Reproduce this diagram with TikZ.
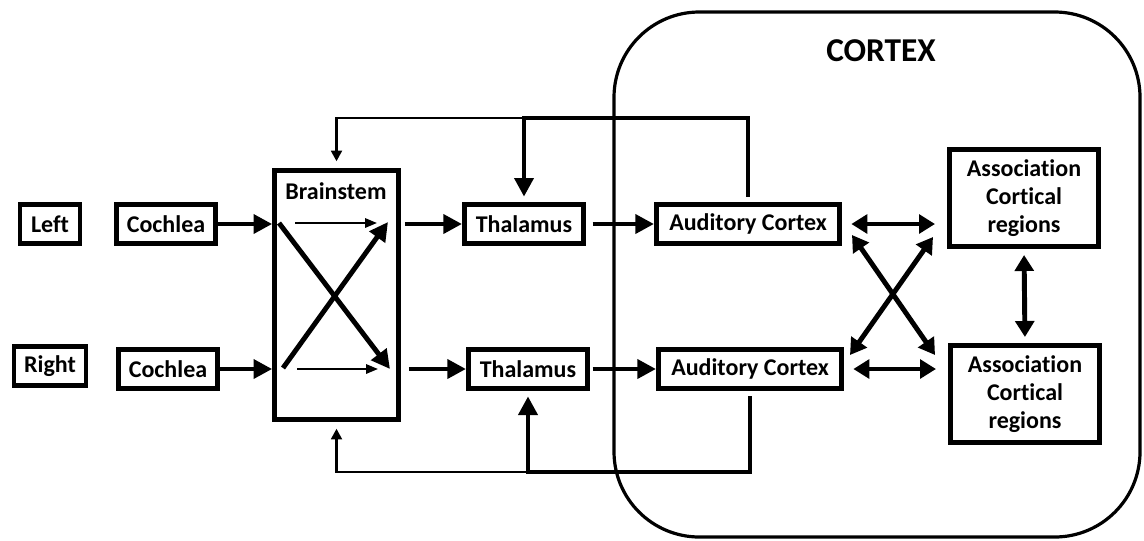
\documentclass[tikz,border=0pt]{standalone}
\usepackage{fontspec}
\setmainfont{Carlito}[Ligatures=NoCommon]
\usetikzlibrary{arrows.meta}
\begin{document}
\begin{tikzpicture}[x=0.75pt, y=-0.75pt, line join=miter,
		font=\bfseries\fontsize{18}{21}\selectfont,
		box/.style={draw, line width=3.5pt, inner sep=0pt, minimum height=29.5pt, align=center},
		flow/.style={line width=3.7pt, -{Triangle[length=14pt,width=14pt]}},
		both/.style={line width=3.7pt, {Triangle[length=12pt,width=14pt]}-{Triangle[length=12pt,width=14pt]}},
		thinflow/.style={line width=1.6pt, -{Triangle[length=9pt,width=7pt]}},
		back/.style={line width=2.2pt, -{Triangle[length=8pt,width=8pt]}}]
			\useasboundingbox (0,0) rectangle (1144,540);
			% cortex region
			\draw[line width=2.4pt, rounded corners=64pt] (614,12) rectangle (1140,537);
			\node (cortex) at (881,51) {\fontsize{25}{30}\selectfont CORTEX};
			% boxes
			\node[box, minimum width=45pt] (left) at (50,224) {Left};
			\node[box, minimum width=54pt] (right) at (50,366) {Right};
			\node[box, minimum width=74.5pt] (coch1) at (166,224) {Cochlea};
			\node[box, minimum width=74.5pt] (coch2) at (168,369) {Cochlea};
			\node[box, minimum width=93pt, minimum height=187pt] (bs) at (336.5,295) {};
			\node (bslabel) at (336,191) {Brainstem};
			\node[box, minimum width=89.5pt] (th1) at (524,224) {Thalamus};
			\node[box, minimum width=89.5pt] (th2) at (528,369) {Thalamus};
			\node[box, minimum width=137.5pt] (ac1) at (748,224) {Auditory Cortex};
			\node[box, minimum width=137.5pt] (ac2) at (750,369) {Auditory Cortex};
			\node[box, minimum width=112pt, minimum height=73pt] (as1) at (1024,198) {Association\\Cortical\\regions};
			\node[box, minimum width=112pt, minimum height=73pt] (as2) at (1025,394) {Association\\Cortical\\regions};
			% points inside the brainstem
			\coordinate (a1) at (295,223);
			\coordinate (a2) at (377,223);
			\coordinate (b1) at (297,369);
			\coordinate (b2) at (378,369);
			\coordinate (x1) at (279,223);
			\coordinate (x2) at (390,369);
			\coordinate (y1) at (283,368);
			\coordinate (y2) at (388,222);
			% crossing on the right
			\coordinate (r1) at (852,235);
			\coordinate (r2) at (935,355);
			\coordinate (s1) at (850,355);
			\coordinate (s2) at (933,237);
			% feedback corners
			\coordinate (tTop) at (524,118);
			\coordinate (tBot) at (528,472);
			% cochlea to brainstem
			\draw[flow] (coch1.east) -- (coch1.east -| bs.west);
			\draw[flow] (coch2.east) -- (coch2.east -| bs.west);
			\draw[thinflow] (a1) -- (a2);
			\draw[thinflow] (b1) -- (b2);
			\draw[flow] (x1) -- (x2);
			\draw[flow] (y1) -- (y2);
			% brainstem to thalamus to auditory cortex
			\draw[flow, shorten <=3pt] (bs.east |- th1) -- (th1.west);
			\draw[flow, shorten <=6pt] (bs.east |- th2) -- (th2.west);
			\draw[flow, shorten <=5pt] (th1.east) -- (ac1.west);
			\draw[flow, shorten <=2pt] (th2.east) -- (ac2.west);
			% descending paths
			\draw[flow, shorten <=4pt, shorten >=4pt] (ac1.north) |- (tTop) -- (th1.north);
			\draw[back, shorten >=5pt] (tTop) -| (bs.north);
			\draw[flow, shorten <=4pt, shorten >=4pt] (ac2.south) |- (tBot) -- (th2.south);
			\draw[back, shorten >=5pt] (tBot) -| (bs.south);
			% association links
			\draw[both, shorten <=7pt, shorten >=9pt] (ac1.east) -- (as1.west |- ac1.east);
			\draw[both, shorten <=7pt, shorten >=9pt] (ac2.east) -- (as2.west |- ac2.east);
			\draw[both] (r1) -- (r2);
			\draw[both] (s1) -- (s2);
			\draw[both, shorten <=4.5pt, shorten >=4.5pt] (as1.south) -- (as2.north);
		\end{tikzpicture}
\end{document}
